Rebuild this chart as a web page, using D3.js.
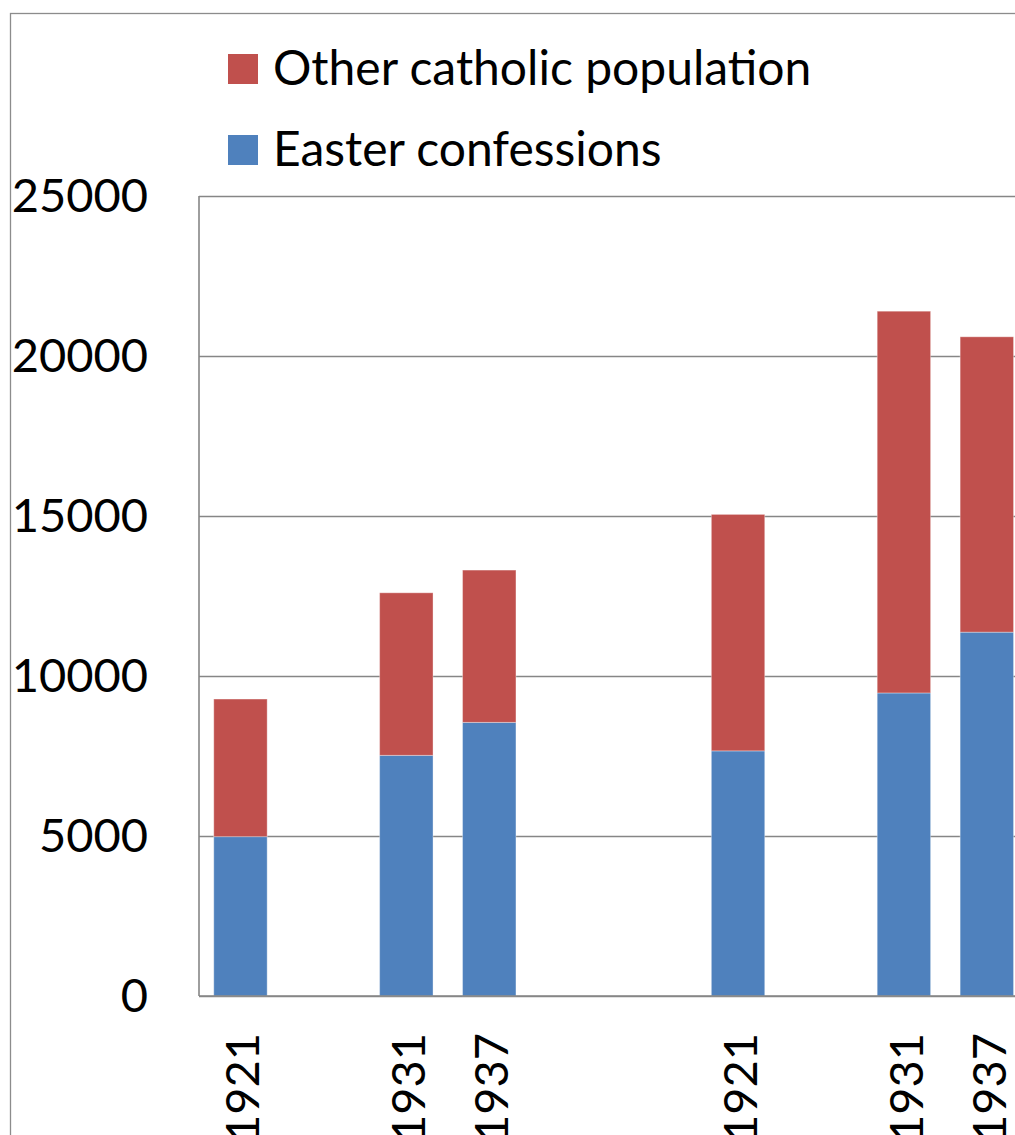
<!DOCTYPE html>
<html>
<head>
<meta charset="utf-8">
<script src="https://cdn.jsdelivr.net/npm/d3@7"></script>
<style>
  html, body { margin: 0; padding: 0; background: #fff; overflow: hidden; }
  svg { display: block; font-family: Lato, "Open Sans", sans-serif; }
</style>
</head>
<body>
<svg id="chart" width="1015" height="1135"></svg>
<script>
// Category slots along the x axis (blank slots keep the spacing between census groups)
const slots = ["a1921", "gap1", "a1931", "a1937", "gap2", "gap3", "b1921", "gap4", "b1931", "b1937"];
const slotLabels = ["1921", "", "1931", "1937", "", "", "1921", "", "1931", "1937"];

// Stacked values per census year
const barSlots = ["a1921", "a1931", "a1937", "b1921", "b1931", "b1937"];
const easternValues = [4980, 7520, 8550, 7660, 9470, 11370];
const otherCatholicValues = [4300, 5080, 4760, 7390, 11930, 9230];

const seriesNames = ["Other catholic population", "Easter confessions"];
const seriesColors = ["#C0504D", "#4F81BD"];
const yTicks = [0, 5000, 10000, 15000, 20000, 25000];

const svg = d3.select("#chart");
const plot = { left: 199, top: 196, bottom: 996 };
const step = 82.93;

const x = d3.scaleBand()
  .domain(slots)
  .range([plot.left, plot.left + step * slots.length])
  .paddingInner(0.356)
  .paddingOuter(0.178);

const y = d3.scaleLinear().domain([0, 25000]).range([plot.bottom, plot.top]);

// Outer chart border
svg.append("rect")
  .attr("x", 10.5).attr("y", 13.5)
  .attr("width", 1100).attr("height", 1200)
  .attr("fill", "none").attr("stroke", "#8c8c8c").attr("stroke-width", 1.3);

// Horizontal gridlines
const grid = svg.append("g")
  .attr("transform", `translate(${plot.left},0)`)
  .call(d3.axisLeft(y).tickValues(yTicks).tickSize(-(x.range()[1] - plot.left)).tickFormat(""));
grid.select(".domain").remove();
grid.selectAll(".tick line").attr("stroke", "#868686").attr("stroke-width", 1.6);

// Y tick labels
const yAxis = svg.append("g")
  .attr("transform", `translate(${plot.left},0)`)
  .call(d3.axisLeft(y).tickValues(yTicks).tickSize(0).tickPadding(51).tickFormat(d3.format("d")));
yAxis.select(".domain").remove();
yAxis.selectAll(".tick text")
  .attr("font-family", "Lato, sans-serif")
  .attr("font-size", 47)
  .attr("fill", "#000")
  .attr("dy", "0.34em");

// Stacked bars
const rows = barSlots.map((s, i) => ({ slot: s, eastern: easternValues[i], other: otherCatholicValues[i] }));
const stack = d3.stack().keys(["eastern", "other"])(rows);
const colorByKey = { eastern: seriesColors[1], other: seriesColors[0] };

svg.append("g").selectAll("g")
  .data(stack)
  .join("g")
  .attr("fill", d => colorByKey[d.key])
  .selectAll("rect")
  .data(d => d)
  .join("rect")
  .attr("x", d => x(d.data.slot))
  .attr("width", x.bandwidth())
  .attr("y", d => y(d[1]))
  .attr("height", d => y(d[0]) - y(d[1]))
  .attr("stroke", "#ffffff")
  .attr("stroke-opacity", 0.35)
  .attr("stroke-width", 1);

// Axis lines
svg.append("line")
  .attr("x1", plot.left).attr("x2", plot.left)
  .attr("y1", plot.top).attr("y2", plot.bottom)
  .attr("stroke", "#868686").attr("stroke-width", 1.6);

const xAxis = svg.append("g")
  .attr("transform", `translate(0,${plot.bottom})`)
  .call(d3.axisBottom(x).tickSize(0).tickFormat((d, i) => slotLabels[i]));
xAxis.select(".domain").attr("stroke", "#868686").attr("stroke-width", 1.6)
  .attr("d", `M${plot.left},0H${x.range()[1]}`);
xAxis.selectAll(".tick text")
  .attr("font-family", "Lato, sans-serif")
  .attr("font-size", 47)
  .attr("fill", "#000")
  .attr("text-anchor", "end")
  .attr("transform", "rotate(-90)")
  .attr("x", -37)
  .attr("y", 2)
  .attr("dy", "0.36em");

// Legend
const legend = svg.append("g");
seriesNames.forEach((name, i) => {
  const g = legend.append("g").attr("transform", `translate(228,${54 + i * 81})`);
  g.append("rect").attr("width", 30).attr("height", 30).attr("fill", seriesColors[i]);
  g.append("text")
    .attr("x", 45).attr("y", 31)
    .attr("font-family", "Lato, sans-serif")
    .attr("font-size", 48)
    .attr("fill", "#000")
    .text(name);
});
</script>
</body>
</html>
